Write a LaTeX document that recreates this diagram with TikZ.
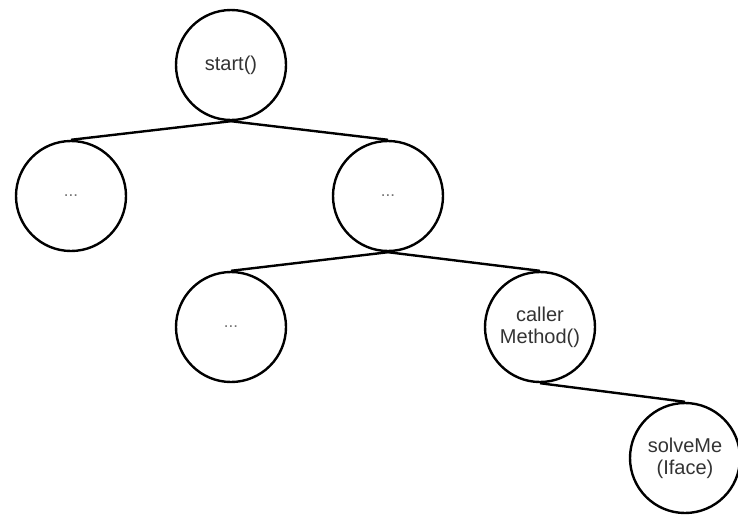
\documentclass[tikz,border=0pt]{standalone}
\usepackage{fontspec}
\setmainfont{Liberation Sans}
\usetikzlibrary{positioning, calc}
\tikzset{
  calltree/.style={
	x=1pt, y=-1pt, % one unit per pixel, y going down
	line width=2.4pt, % thick outline for circles and edges
	node distance=131pt, % vertical distance between two levels
	every node/.style={circle, draw=black, inner sep=0pt, minimum size=110pt,
	  align=center, text=black!80, font=\fontsize{20}{22}\selectfont}, % sets the look of each call
	dots/.style={text=black!55, font=\fontsize{17}{19}\selectfont}, % calls left out
  }
}
\begin{document}
\begin{tikzpicture}[calltree]
\useasboundingbox (0,0) rectangle (738,515);
\node[, ] at (231,65) (start) {start()};
\node[dots, below of=start, yshift=0pt, xshift=-160pt] (l) {...};
\node[dots, below of=start, yshift=0pt, xshift=157pt] (r) {...};
\node[dots, below of=r, yshift=0pt, xshift=-157pt] (rl) {...};
\node[, below of=r, yshift=0pt, xshift=152pt] (caller) {caller\\Method()};
\node[, below of=caller, yshift=0pt, xshift=145pt] (solve) {solveMe\\(Iface)};

\draw   (start.south) edge (l.north)
	(start.south) edge (r.north)
	(r.south) edge (rl.north)
	(r.south) edge (caller.north)
	(caller.south) edge (solve.north)
;
\end{tikzpicture}
\end{document}
